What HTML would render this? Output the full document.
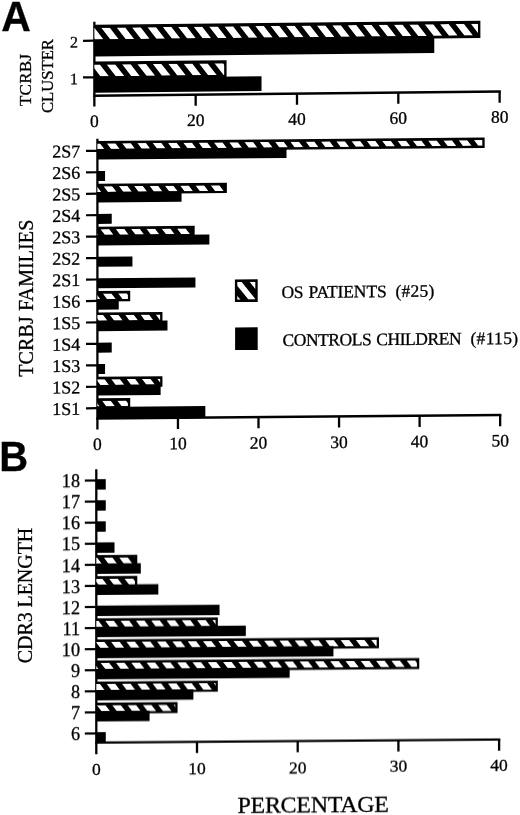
<!DOCTYPE html>
<html><head><meta charset="utf-8"><title>Figure</title>
<style>
html,body{margin:0;padding:0;background:#fff;}
body{width:520px;height:815px;overflow:hidden;font-family:"Liberation Serif",serif;}
svg{display:block;}
</style></head><body>
<svg width="520" height="815" viewBox="0 0 520 815"><defs><filter id="soft" x="-2%" y="-2%" width="104%" height="104%"><feGaussianBlur stdDeviation="0.45"/></filter><clipPath id="c1"><rect x="94.35" y="27.80" width="383.63" height="11.60"/></clipPath><clipPath id="c2"><rect x="94.35" y="64.60" width="129.82" height="11.80"/></clipPath><clipPath id="c3"><rect x="97.40" y="143.40" width="384.94" height="5.70"/></clipPath><clipPath id="c4"><rect x="97.40" y="186.30" width="127.18" height="5.70"/></clipPath><clipPath id="c5"><rect x="97.40" y="229.20" width="94.96" height="5.70"/></clipPath><clipPath id="c6"><rect x="97.40" y="293.55" width="30.52" height="5.70"/></clipPath><clipPath id="c7"><rect x="97.40" y="315.00" width="62.74" height="5.70"/></clipPath><clipPath id="c8"><rect x="97.40" y="379.35" width="62.74" height="5.70"/></clipPath><clipPath id="c9"><rect x="97.40" y="400.80" width="30.52" height="5.70"/></clipPath><clipPath id="c10"><rect x="237.30" y="283.10" width="18.00" height="17.80"/></clipPath><clipPath id="c11"><rect x="96.30" y="557.62" width="38.68" height="6.60"/></clipPath><clipPath id="c12"><rect x="96.30" y="578.70" width="38.68" height="6.60"/></clipPath><clipPath id="c13"><rect x="96.30" y="620.86" width="119.24" height="6.60"/></clipPath><clipPath id="c14"><rect x="96.30" y="641.94" width="280.36" height="6.60"/></clipPath><clipPath id="c15"><rect x="96.30" y="663.02" width="320.64" height="6.60"/></clipPath><clipPath id="c16"><rect x="96.30" y="684.10" width="119.24" height="6.60"/></clipPath><clipPath id="c17"><rect x="96.30" y="705.18" width="78.96" height="6.60"/></clipPath></defs><rect width="520" height="815" fill="#fff"/><g filter="url(#soft)"><text transform="translate(1.2 31.0) scale(0.945 1)" font-family='"Liberation Sans", sans-serif' font-size="43.3" font-weight="bold" stroke="#000" stroke-width="0.3">A</text>
<text transform="translate(-0.8 471.3) scale(0.96 1)" font-family='"Liberation Sans", sans-serif' font-size="41.6" font-weight="bold" stroke="#000" stroke-width="0.3">B</text>
<g transform="translate(94.35 0) skewY(-0.6) translate(-94.35 0)">
<line x1="94.35" y1="21.70" x2="94.35" y2="106.50" stroke="#000" stroke-width="2.3"/>
<line x1="93.25" y1="95.70" x2="500.83" y2="95.70" stroke="#000" stroke-width="2.4"/>
<line x1="195.67" y1="95.70" x2="195.67" y2="106.90" stroke="#000" stroke-width="2.3"/>
<line x1="296.99" y1="95.70" x2="296.99" y2="106.90" stroke="#000" stroke-width="2.3"/>
<line x1="398.31" y1="95.70" x2="398.31" y2="106.90" stroke="#000" stroke-width="2.3"/>
<line x1="499.63" y1="95.70" x2="499.63" y2="106.90" stroke="#000" stroke-width="2.3"/>
<text x="94.35" y="127.00" font-family='"Liberation Serif", serif' font-size="17.5" font-weight="normal" text-anchor="middle" stroke="#000" stroke-width="0.3">0</text>
<text x="195.67" y="127.00" font-family='"Liberation Serif", serif' font-size="17.5" font-weight="normal" text-anchor="middle" stroke="#000" stroke-width="0.3">20</text>
<text x="296.99" y="127.00" font-family='"Liberation Serif", serif' font-size="17.5" font-weight="normal" text-anchor="middle" stroke="#000" stroke-width="0.3">40</text>
<text x="398.31" y="127.00" font-family='"Liberation Serif", serif' font-size="17.5" font-weight="normal" text-anchor="middle" stroke="#000" stroke-width="0.3">60</text>
<text x="499.63" y="127.00" font-family='"Liberation Serif", serif' font-size="17.5" font-weight="normal" text-anchor="middle" stroke="#000" stroke-width="0.3">80</text>
<line x1="83.00" y1="40.70" x2="94.35" y2="40.70" stroke="#000" stroke-width="2.2"/>
<text x="77.90" y="47.30" font-family='"Liberation Serif", serif' font-size="16" font-weight="normal" text-anchor="end" stroke="#000" stroke-width="0.3">2</text>
<line x1="83.00" y1="77.30" x2="94.35" y2="77.30" stroke="#000" stroke-width="2.2"/>
<text x="77.90" y="83.90" font-family='"Liberation Serif", serif' font-size="16" font-weight="normal" text-anchor="end" stroke="#000" stroke-width="0.3">1</text>
<rect x="94.35" y="24.80" width="386.03" height="17.20" fill="#000"/>
<path clip-path="url(#c1)" d="M55.10 27.80L63.60 27.80L72.53 39.40L64.03 39.40ZM70.50 27.80L79.00 27.80L87.93 39.40L79.43 39.40ZM85.90 27.80L94.40 27.80L103.33 39.40L94.83 39.40ZM101.30 27.80L109.80 27.80L118.73 39.40L110.23 39.40ZM116.70 27.80L125.20 27.80L134.13 39.40L125.63 39.40ZM132.10 27.80L140.60 27.80L149.53 39.40L141.03 39.40ZM147.50 27.80L156.00 27.80L164.93 39.40L156.43 39.40ZM162.90 27.80L171.40 27.80L180.33 39.40L171.83 39.40ZM178.30 27.80L186.80 27.80L195.73 39.40L187.23 39.40ZM193.70 27.80L202.20 27.80L211.13 39.40L202.63 39.40ZM209.10 27.80L217.60 27.80L226.53 39.40L218.03 39.40ZM224.50 27.80L233.00 27.80L241.93 39.40L233.43 39.40ZM239.90 27.80L248.40 27.80L257.33 39.40L248.83 39.40ZM255.30 27.80L263.80 27.80L272.73 39.40L264.23 39.40ZM270.70 27.80L279.20 27.80L288.13 39.40L279.63 39.40ZM286.10 27.80L294.60 27.80L303.53 39.40L295.03 39.40ZM301.50 27.80L310.00 27.80L318.93 39.40L310.43 39.40ZM316.90 27.80L325.40 27.80L334.33 39.40L325.83 39.40ZM332.30 27.80L340.80 27.80L349.73 39.40L341.23 39.40ZM347.70 27.80L356.20 27.80L365.13 39.40L356.63 39.40ZM363.10 27.80L371.60 27.80L380.53 39.40L372.03 39.40ZM378.50 27.80L387.00 27.80L395.93 39.40L387.43 39.40ZM393.90 27.80L402.40 27.80L411.33 39.40L402.83 39.40ZM409.30 27.80L417.80 27.80L426.73 39.40L418.23 39.40ZM424.70 27.80L433.20 27.80L442.13 39.40L433.63 39.40ZM440.10 27.80L448.60 27.80L457.53 39.40L449.03 39.40ZM455.50 27.80L464.00 27.80L472.93 39.40L464.43 39.40ZM470.90 27.80L479.40 27.80L488.33 39.40L479.83 39.40ZM486.30 27.80L494.80 27.80L503.73 39.40L495.23 39.40ZM501.70 27.80L510.20 27.80L519.13 39.40L510.63 39.40Z" fill="#fff"/>
<rect x="94.35" y="41.00" width="339.93" height="15.50" fill="#000"/>
<rect x="94.35" y="61.60" width="132.22" height="17.40" fill="#000"/>
<path clip-path="url(#c2)" d="M60.50 64.60L69.00 64.60L78.09 76.40L69.59 76.40ZM75.90 64.60L84.40 64.60L93.49 76.40L84.99 76.40ZM91.30 64.60L99.80 64.60L108.89 76.40L100.39 76.40ZM106.70 64.60L115.20 64.60L124.29 76.40L115.79 76.40ZM122.10 64.60L130.60 64.60L139.69 76.40L131.19 76.40ZM137.50 64.60L146.00 64.60L155.09 76.40L146.59 76.40ZM152.90 64.60L161.40 64.60L170.49 76.40L161.99 76.40ZM168.30 64.60L176.80 64.60L185.89 76.40L177.39 76.40ZM183.70 64.60L192.20 64.60L201.29 76.40L192.79 76.40ZM199.10 64.60L207.60 64.60L216.69 76.40L208.19 76.40ZM214.50 64.60L223.00 64.60L232.09 76.40L223.59 76.40ZM229.90 64.60L238.40 64.60L247.49 76.40L238.99 76.40ZM245.30 64.60L253.80 64.60L262.89 76.40L254.39 76.40ZM260.70 64.60L269.20 64.60L278.29 76.40L269.79 76.40Z" fill="#fff"/>
<rect x="94.35" y="78.00" width="167.18" height="14.80" fill="#000"/>
</g>
<text x="31.00" y="80.00" font-family='"Liberation Serif", serif' font-size="17.0" font-weight="normal" text-anchor="middle" stroke="#000" stroke-width="0.3" transform="rotate(-90 31.00 80.00)" textLength="52.00" lengthAdjust="spacing">TCRBJ</text>
<text x="53.00" y="76.00" font-family='"Liberation Serif", serif' font-size="16.7" font-weight="normal" text-anchor="middle" stroke="#000" stroke-width="0.3" transform="rotate(-90 53.00 76.00)" textLength="74.00" lengthAdjust="spacing">CLUSTER</text>
<g transform="translate(97.4 0) skewY(-0.5) translate(-97.4 0)">
<line x1="97.40" y1="138.80" x2="97.40" y2="429.60" stroke="#000" stroke-width="2.3"/>
<line x1="96.30" y1="418.50" x2="501.35" y2="418.50" stroke="#000" stroke-width="2.4"/>
<line x1="177.95" y1="418.50" x2="177.95" y2="429.70" stroke="#000" stroke-width="2.3"/>
<line x1="258.50" y1="418.50" x2="258.50" y2="429.70" stroke="#000" stroke-width="2.3"/>
<line x1="339.05" y1="418.50" x2="339.05" y2="429.70" stroke="#000" stroke-width="2.3"/>
<line x1="419.60" y1="418.50" x2="419.60" y2="429.70" stroke="#000" stroke-width="2.3"/>
<line x1="500.15" y1="418.50" x2="500.15" y2="429.70" stroke="#000" stroke-width="2.3"/>
<text x="97.40" y="450.00" font-family='"Liberation Serif", serif' font-size="17.5" font-weight="normal" text-anchor="middle" stroke="#000" stroke-width="0.3">0</text>
<text x="177.95" y="450.00" font-family='"Liberation Serif", serif' font-size="17.5" font-weight="normal" text-anchor="middle" stroke="#000" stroke-width="0.3">10</text>
<text x="258.50" y="450.00" font-family='"Liberation Serif", serif' font-size="17.5" font-weight="normal" text-anchor="middle" stroke="#000" stroke-width="0.3">20</text>
<text x="339.05" y="450.00" font-family='"Liberation Serif", serif' font-size="17.5" font-weight="normal" text-anchor="middle" stroke="#000" stroke-width="0.3">30</text>
<text x="419.60" y="450.00" font-family='"Liberation Serif", serif' font-size="17.5" font-weight="normal" text-anchor="middle" stroke="#000" stroke-width="0.3">40</text>
<text x="500.15" y="450.00" font-family='"Liberation Serif", serif' font-size="17.5" font-weight="normal" text-anchor="middle" stroke="#000" stroke-width="0.3">50</text>
<line x1="86.00" y1="150.80" x2="97.40" y2="150.80" stroke="#000" stroke-width="2.2"/>
<text x="80.30" y="157.20" font-family='"Liberation Serif", serif' font-size="18" font-weight="normal" text-anchor="end" stroke="#000" stroke-width="0.3">2S7</text>
<rect x="97.40" y="140.90" width="387.24" height="10.40" fill="#000"/>
<path clip-path="url(#c3)" d="M60.90 143.40L69.40 143.40L73.71 149.10L65.21 149.10ZM76.20 143.40L84.70 143.40L89.01 149.10L80.51 149.10ZM91.50 143.40L100.00 143.40L104.31 149.10L95.81 149.10ZM106.80 143.40L115.30 143.40L119.61 149.10L111.11 149.10ZM122.10 143.40L130.60 143.40L134.91 149.10L126.41 149.10ZM137.40 143.40L145.90 143.40L150.21 149.10L141.71 149.10ZM152.70 143.40L161.20 143.40L165.51 149.10L157.01 149.10ZM168.00 143.40L176.50 143.40L180.81 149.10L172.31 149.10ZM183.30 143.40L191.80 143.40L196.11 149.10L187.61 149.10ZM198.60 143.40L207.10 143.40L211.41 149.10L202.91 149.10ZM213.90 143.40L222.40 143.40L226.71 149.10L218.21 149.10ZM229.20 143.40L237.70 143.40L242.01 149.10L233.51 149.10ZM244.50 143.40L253.00 143.40L257.31 149.10L248.81 149.10ZM259.80 143.40L268.30 143.40L272.61 149.10L264.11 149.10ZM275.10 143.40L283.60 143.40L287.91 149.10L279.41 149.10ZM290.40 143.40L298.90 143.40L303.21 149.10L294.71 149.10ZM305.70 143.40L314.20 143.40L318.51 149.10L310.01 149.10ZM321.00 143.40L329.50 143.40L333.81 149.10L325.31 149.10ZM336.30 143.40L344.80 143.40L349.11 149.10L340.61 149.10ZM351.60 143.40L360.10 143.40L364.41 149.10L355.91 149.10ZM366.90 143.40L375.40 143.40L379.71 149.10L371.21 149.10ZM382.20 143.40L390.70 143.40L395.01 149.10L386.51 149.10ZM397.50 143.40L406.00 143.40L410.31 149.10L401.81 149.10ZM412.80 143.40L421.30 143.40L425.61 149.10L417.11 149.10ZM428.10 143.40L436.60 143.40L440.91 149.10L432.41 149.10ZM443.40 143.40L451.90 143.40L456.21 149.10L447.71 149.10ZM458.70 143.40L467.20 143.40L471.51 149.10L463.01 149.10ZM474.00 143.40L482.50 143.40L486.81 149.10L478.31 149.10ZM489.30 143.40L497.80 143.40L502.11 149.10L493.61 149.10ZM504.60 143.40L513.10 143.40L517.41 149.10L508.91 149.10Z" fill="#fff"/>
<rect x="97.40" y="149.60" width="189.13" height="10.00" fill="#000"/>
<line x1="86.00" y1="172.25" x2="97.40" y2="172.25" stroke="#000" stroke-width="2.2"/>
<text x="80.30" y="178.65" font-family='"Liberation Serif", serif' font-size="18" font-weight="normal" text-anchor="end" stroke="#000" stroke-width="0.3">2S6</text>
<rect x="97.40" y="171.05" width="7.65" height="10.00" fill="#000"/>
<line x1="86.00" y1="193.70" x2="97.40" y2="193.70" stroke="#000" stroke-width="2.2"/>
<text x="80.30" y="200.10" font-family='"Liberation Serif", serif' font-size="18" font-weight="normal" text-anchor="end" stroke="#000" stroke-width="0.3">2S5</text>
<rect x="97.40" y="183.80" width="129.48" height="10.40" fill="#000"/>
<path clip-path="url(#c4)" d="M57.75 186.30L66.25 186.30L70.56 192.00L62.06 192.00ZM73.05 186.30L81.55 186.30L85.86 192.00L77.36 192.00ZM88.35 186.30L96.85 186.30L101.16 192.00L92.66 192.00ZM103.65 186.30L112.15 186.30L116.46 192.00L107.96 192.00ZM118.95 186.30L127.45 186.30L131.76 192.00L123.26 192.00ZM134.25 186.30L142.75 186.30L147.06 192.00L138.56 192.00ZM149.55 186.30L158.05 186.30L162.36 192.00L153.86 192.00ZM164.85 186.30L173.35 186.30L177.66 192.00L169.16 192.00ZM180.15 186.30L188.65 186.30L192.96 192.00L184.46 192.00ZM195.45 186.30L203.95 186.30L208.26 192.00L199.76 192.00ZM210.75 186.30L219.25 186.30L223.56 192.00L215.06 192.00ZM226.05 186.30L234.55 186.30L238.86 192.00L230.36 192.00ZM241.35 186.30L249.85 186.30L254.16 192.00L245.66 192.00ZM256.65 186.30L265.15 186.30L269.46 192.00L260.96 192.00Z" fill="#fff"/>
<rect x="97.40" y="192.50" width="84.17" height="10.00" fill="#000"/>
<line x1="86.00" y1="215.15" x2="97.40" y2="215.15" stroke="#000" stroke-width="2.2"/>
<text x="80.30" y="221.55" font-family='"Liberation Serif", serif' font-size="18" font-weight="normal" text-anchor="end" stroke="#000" stroke-width="0.3">2S4</text>
<rect x="97.40" y="213.95" width="14.34" height="10.00" fill="#000"/>
<line x1="86.00" y1="236.60" x2="97.40" y2="236.60" stroke="#000" stroke-width="2.2"/>
<text x="80.30" y="243.00" font-family='"Liberation Serif", serif' font-size="18" font-weight="normal" text-anchor="end" stroke="#000" stroke-width="0.3">2S3</text>
<rect x="97.40" y="226.70" width="97.26" height="10.40" fill="#000"/>
<path clip-path="url(#c5)" d="M54.65 229.20L63.15 229.20L67.46 234.90L58.96 234.90ZM69.95 229.20L78.45 229.20L82.76 234.90L74.26 234.90ZM85.25 229.20L93.75 229.20L98.06 234.90L89.56 234.90ZM100.55 229.20L109.05 229.20L113.36 234.90L104.86 234.90ZM115.85 229.20L124.35 229.20L128.66 234.90L120.16 234.90ZM131.15 229.20L139.65 229.20L143.96 234.90L135.46 234.90ZM146.45 229.20L154.95 229.20L159.26 234.90L150.76 234.90ZM161.75 229.20L170.25 229.20L174.56 234.90L166.06 234.90ZM177.05 229.20L185.55 229.20L189.86 234.90L181.36 234.90ZM192.35 229.20L200.85 229.20L205.16 234.90L196.66 234.90ZM207.65 229.20L216.15 229.20L220.46 234.90L211.96 234.90ZM222.95 229.20L231.45 229.20L235.76 234.90L227.26 234.90Z" fill="#fff"/>
<rect x="97.40" y="235.40" width="111.96" height="10.00" fill="#000"/>
<line x1="86.00" y1="258.05" x2="97.40" y2="258.05" stroke="#000" stroke-width="2.2"/>
<text x="80.30" y="264.45" font-family='"Liberation Serif", serif' font-size="18" font-weight="normal" text-anchor="end" stroke="#000" stroke-width="0.3">2S2</text>
<rect x="97.40" y="256.85" width="35.04" height="10.00" fill="#000"/>
<line x1="86.00" y1="279.50" x2="97.40" y2="279.50" stroke="#000" stroke-width="2.2"/>
<text x="80.30" y="285.90" font-family='"Liberation Serif", serif' font-size="18" font-weight="normal" text-anchor="end" stroke="#000" stroke-width="0.3">2S1</text>
<rect x="97.40" y="278.30" width="98.03" height="10.00" fill="#000"/>
<line x1="86.00" y1="300.95" x2="97.40" y2="300.95" stroke="#000" stroke-width="2.2"/>
<text x="80.30" y="307.35" font-family='"Liberation Serif", serif' font-size="18" font-weight="normal" text-anchor="end" stroke="#000" stroke-width="0.3">1S6</text>
<rect x="97.40" y="291.05" width="32.82" height="10.40" fill="#000"/>
<path clip-path="url(#c6)" d="M56.95 293.55L65.45 293.55L69.76 299.25L61.26 299.25ZM72.25 293.55L80.75 293.55L85.06 299.25L76.56 299.25ZM87.55 293.55L96.05 293.55L100.36 299.25L91.86 299.25ZM102.85 293.55L111.35 293.55L115.66 299.25L107.16 299.25ZM118.15 293.55L126.65 293.55L130.96 299.25L122.46 299.25ZM133.45 293.55L141.95 293.55L146.26 299.25L137.76 299.25ZM148.75 293.55L157.25 293.55L161.56 299.25L153.06 299.25ZM164.05 293.55L172.55 293.55L176.86 299.25L168.36 299.25Z" fill="#fff"/>
<rect x="97.40" y="299.75" width="21.35" height="10.00" fill="#000"/>
<line x1="86.00" y1="322.40" x2="97.40" y2="322.40" stroke="#000" stroke-width="2.2"/>
<text x="80.30" y="328.80" font-family='"Liberation Serif", serif' font-size="18" font-weight="normal" text-anchor="end" stroke="#000" stroke-width="0.3">1S5</text>
<rect x="97.40" y="312.50" width="65.04" height="10.40" fill="#000"/>
<path clip-path="url(#c7)" d="M63.95 315.00L72.45 315.00L76.76 320.70L68.26 320.70ZM79.25 315.00L87.75 315.00L92.06 320.70L83.56 320.70ZM94.55 315.00L103.05 315.00L107.36 320.70L98.86 320.70ZM109.85 315.00L118.35 315.00L122.66 320.70L114.16 320.70ZM125.15 315.00L133.65 315.00L137.96 320.70L129.46 320.70ZM140.45 315.00L148.95 315.00L153.26 320.70L144.76 320.70ZM155.75 315.00L164.25 315.00L168.56 320.70L160.06 320.70ZM171.05 315.00L179.55 315.00L183.86 320.70L175.36 320.70ZM186.35 315.00L194.85 315.00L199.16 320.70L190.66 320.70Z" fill="#fff"/>
<rect x="97.40" y="321.20" width="70.08" height="10.00" fill="#000"/>
<line x1="86.00" y1="343.85" x2="97.40" y2="343.85" stroke="#000" stroke-width="2.2"/>
<text x="80.30" y="350.25" font-family='"Liberation Serif", serif' font-size="18" font-weight="normal" text-anchor="end" stroke="#000" stroke-width="0.3">1S4</text>
<rect x="97.40" y="342.65" width="14.34" height="10.00" fill="#000"/>
<line x1="86.00" y1="365.30" x2="97.40" y2="365.30" stroke="#000" stroke-width="2.2"/>
<text x="80.30" y="371.70" font-family='"Liberation Serif", serif' font-size="18" font-weight="normal" text-anchor="end" stroke="#000" stroke-width="0.3">1S3</text>
<rect x="97.40" y="364.10" width="7.65" height="10.00" fill="#000"/>
<line x1="86.00" y1="386.75" x2="97.40" y2="386.75" stroke="#000" stroke-width="2.2"/>
<text x="80.30" y="393.15" font-family='"Liberation Serif", serif' font-size="18" font-weight="normal" text-anchor="end" stroke="#000" stroke-width="0.3">1S2</text>
<rect x="97.40" y="376.85" width="65.04" height="10.40" fill="#000"/>
<path clip-path="url(#c8)" d="M65.50 379.35L74.00 379.35L78.31 385.05L69.81 385.05ZM80.80 379.35L89.30 379.35L93.61 385.05L85.11 385.05ZM96.10 379.35L104.60 379.35L108.91 385.05L100.41 385.05ZM111.40 379.35L119.90 379.35L124.21 385.05L115.71 385.05ZM126.70 379.35L135.20 379.35L139.51 385.05L131.01 385.05ZM142.00 379.35L150.50 379.35L154.81 385.05L146.31 385.05ZM157.30 379.35L165.80 379.35L170.11 385.05L161.61 385.05ZM172.60 379.35L181.10 379.35L185.41 385.05L176.91 385.05ZM187.90 379.35L196.40 379.35L200.71 385.05L192.21 385.05Z" fill="#fff"/>
<rect x="97.40" y="385.55" width="63.23" height="10.00" fill="#000"/>
<line x1="86.00" y1="408.20" x2="97.40" y2="408.20" stroke="#000" stroke-width="2.2"/>
<text x="80.30" y="414.60" font-family='"Liberation Serif", serif' font-size="18" font-weight="normal" text-anchor="end" stroke="#000" stroke-width="0.3">1S1</text>
<rect x="97.40" y="398.30" width="32.82" height="10.40" fill="#000"/>
<path clip-path="url(#c9)" d="M56.20 400.80L64.70 400.80L69.01 406.50L60.51 406.50ZM71.50 400.80L80.00 400.80L84.31 406.50L75.81 406.50ZM86.80 400.80L95.30 400.80L99.61 406.50L91.11 406.50ZM102.10 400.80L110.60 400.80L114.91 406.50L106.41 406.50ZM117.40 400.80L125.90 400.80L130.21 406.50L121.71 406.50ZM132.70 400.80L141.20 400.80L145.51 406.50L137.01 406.50ZM148.00 400.80L156.50 400.80L160.81 406.50L152.31 406.50ZM163.30 400.80L171.80 400.80L176.11 406.50L167.61 406.50Z" fill="#fff"/>
<rect x="97.40" y="407.00" width="107.94" height="11.50" fill="#000"/>
</g>
<text x="33.00" y="298.20" font-family='"Liberation Serif", serif' font-size="20" font-weight="normal" text-anchor="middle" stroke="#000" stroke-width="0.3" transform="rotate(-90 33.00 298.20)" textLength="157.00" lengthAdjust="spacing">TCRBJ FAMILIES</text>
<g transform="translate(97.4 0) skewY(-0.5) translate(-97.4 0)">
<rect x="234.90" y="280.70" width="22.80" height="22.60" fill="#000"/>
<path clip-path="url(#c10)" d="M188.30 283.10L195.60 283.10L209.84 300.90L202.54 300.90ZM203.60 283.10L210.90 283.10L225.14 300.90L217.84 300.90ZM218.90 283.10L226.20 283.10L240.44 300.90L233.14 300.90ZM234.20 283.10L241.50 283.10L255.74 300.90L248.44 300.90ZM249.50 283.10L256.80 283.10L271.04 300.90L263.74 300.90ZM264.80 283.10L272.10 283.10L286.34 300.90L279.04 300.90ZM280.10 283.10L287.40 283.10L301.64 300.90L294.34 300.90Z" fill="#fff"/>
<rect x="235.10" y="328.70" width="22.60" height="22.60" fill="#000"/>
<text x="281.40" y="299.60" font-family='"Liberation Serif", serif' font-size="17.5" font-weight="normal" text-anchor="start" stroke="#000" stroke-width="0.3" textLength="22.00" lengthAdjust="spacing">OS</text>
<text x="308.40" y="299.60" font-family='"Liberation Serif", serif' font-size="17.5" font-weight="normal" text-anchor="start" stroke="#000" stroke-width="0.3" textLength="78.30" lengthAdjust="spacing">PATIENTS</text>
<text x="395.40" y="299.60" font-family='"Liberation Serif", serif' font-size="17.5" font-weight="normal" text-anchor="start" stroke="#000" stroke-width="0.3" textLength="38.90" lengthAdjust="spacing">(#25)</text>
<text x="282.50" y="347.60" font-family='"Liberation Serif", serif' font-size="17.5" font-weight="normal" text-anchor="start" stroke="#000" stroke-width="0.3" textLength="89.20" lengthAdjust="spacing">CONTROLS</text>
<text x="376.20" y="347.60" font-family='"Liberation Serif", serif' font-size="17.5" font-weight="normal" text-anchor="start" stroke="#000" stroke-width="0.3" textLength="85.40" lengthAdjust="spacing">CHILDREN</text>
<text x="470.40" y="347.60" font-family='"Liberation Serif", serif' font-size="17.5" font-weight="normal" text-anchor="start" stroke="#000" stroke-width="0.3" textLength="47.70" lengthAdjust="spacing">(#115)</text>
</g>
<g transform="translate(96.3 0) skewY(-0.44) translate(-96.3 0)">
<line x1="96.30" y1="469.20" x2="96.30" y2="754.20" stroke="#000" stroke-width="2.3"/>
<line x1="95.20" y1="742.60" x2="500.30" y2="742.60" stroke="#000" stroke-width="2.4"/>
<line x1="197.00" y1="742.60" x2="197.00" y2="753.80" stroke="#000" stroke-width="2.3"/>
<line x1="297.70" y1="742.60" x2="297.70" y2="753.80" stroke="#000" stroke-width="2.3"/>
<line x1="398.40" y1="742.60" x2="398.40" y2="753.80" stroke="#000" stroke-width="2.3"/>
<line x1="499.10" y1="742.60" x2="499.10" y2="753.80" stroke="#000" stroke-width="2.3"/>
<text x="96.30" y="774.80" font-family='"Liberation Serif", serif' font-size="17.5" font-weight="normal" text-anchor="middle" stroke="#000" stroke-width="0.3">0</text>
<text x="197.00" y="774.67" font-family='"Liberation Serif", serif' font-size="17.5" font-weight="normal" text-anchor="middle" stroke="#000" stroke-width="0.3">10</text>
<text x="297.70" y="774.55" font-family='"Liberation Serif", serif' font-size="17.5" font-weight="normal" text-anchor="middle" stroke="#000" stroke-width="0.3">20</text>
<text x="398.40" y="774.42" font-family='"Liberation Serif", serif' font-size="17.5" font-weight="normal" text-anchor="middle" stroke="#000" stroke-width="0.3">30</text>
<text x="499.10" y="774.30" font-family='"Liberation Serif", serif' font-size="17.5" font-weight="normal" text-anchor="middle" stroke="#000" stroke-width="0.3">40</text>
<line x1="84.80" y1="480.50" x2="96.30" y2="480.50" stroke="#000" stroke-width="2.2"/>
<text x="80.00" y="487.20" font-family='"Liberation Serif", serif' font-size="18.2" font-weight="normal" text-anchor="end" stroke="#000" stroke-width="0.3">18</text>
<rect x="96.30" y="479.20" width="9.46" height="10.40" fill="#000"/>
<line x1="84.80" y1="501.58" x2="96.30" y2="501.58" stroke="#000" stroke-width="2.2"/>
<text x="80.00" y="508.28" font-family='"Liberation Serif", serif' font-size="18.2" font-weight="normal" text-anchor="end" stroke="#000" stroke-width="0.3">17</text>
<rect x="96.30" y="500.28" width="9.46" height="10.40" fill="#000"/>
<line x1="84.80" y1="522.66" x2="96.30" y2="522.66" stroke="#000" stroke-width="2.2"/>
<text x="80.00" y="529.36" font-family='"Liberation Serif", serif' font-size="18.2" font-weight="normal" text-anchor="end" stroke="#000" stroke-width="0.3">16</text>
<rect x="96.30" y="521.36" width="9.46" height="10.40" fill="#000"/>
<line x1="84.80" y1="543.74" x2="96.30" y2="543.74" stroke="#000" stroke-width="2.2"/>
<text x="80.00" y="550.44" font-family='"Liberation Serif", serif' font-size="18.2" font-weight="normal" text-anchor="end" stroke="#000" stroke-width="0.3">15</text>
<rect x="96.30" y="542.44" width="18.22" height="10.40" fill="#000"/>
<line x1="84.80" y1="564.82" x2="96.30" y2="564.82" stroke="#000" stroke-width="2.2"/>
<text x="80.00" y="571.52" font-family='"Liberation Serif", serif' font-size="18.2" font-weight="normal" text-anchor="end" stroke="#000" stroke-width="0.3">14</text>
<rect x="96.30" y="555.12" width="40.98" height="11.00" fill="#000"/>
<path clip-path="url(#c11)" d="M57.90 557.62L66.40 557.62L71.39 564.22L62.89 564.22ZM73.20 557.62L81.70 557.62L86.69 564.22L78.19 564.22ZM88.50 557.62L97.00 557.62L101.99 564.22L93.49 564.22ZM103.80 557.62L112.30 557.62L117.29 564.22L108.79 564.22ZM119.10 557.62L127.60 557.62L132.59 564.22L124.09 564.22ZM134.40 557.62L142.90 557.62L147.89 564.22L139.39 564.22ZM149.70 557.62L158.20 557.62L163.19 564.22L154.69 564.22ZM165.00 557.62L173.50 557.62L178.49 564.22L169.99 564.22Z" fill="#fff"/>
<rect x="96.30" y="563.52" width="44.50" height="10.40" fill="#000"/>
<line x1="84.80" y1="585.90" x2="96.30" y2="585.90" stroke="#000" stroke-width="2.2"/>
<text x="80.00" y="592.60" font-family='"Liberation Serif", serif' font-size="18.2" font-weight="normal" text-anchor="end" stroke="#000" stroke-width="0.3">13</text>
<rect x="96.30" y="576.20" width="40.98" height="11.00" fill="#000"/>
<path clip-path="url(#c12)" d="M63.20 578.70L71.70 578.70L76.69 585.30L68.19 585.30ZM78.50 578.70L87.00 578.70L91.99 585.30L83.49 585.30ZM93.80 578.70L102.30 578.70L107.29 585.30L98.79 585.30ZM109.10 578.70L117.60 578.70L122.59 585.30L114.09 585.30ZM124.40 578.70L132.90 578.70L137.89 585.30L129.39 585.30ZM139.70 578.70L148.20 578.70L153.19 585.30L144.69 585.30ZM155.00 578.70L163.50 578.70L168.49 585.30L159.99 585.30ZM170.30 578.70L178.80 578.70L183.79 585.30L175.29 585.30Z" fill="#fff"/>
<rect x="96.30" y="584.60" width="62.03" height="10.40" fill="#000"/>
<line x1="84.80" y1="606.98" x2="96.30" y2="606.98" stroke="#000" stroke-width="2.2"/>
<text x="80.00" y="613.68" font-family='"Liberation Serif", serif' font-size="18.2" font-weight="normal" text-anchor="end" stroke="#000" stroke-width="0.3">12</text>
<rect x="96.30" y="605.68" width="123.25" height="10.40" fill="#000"/>
<line x1="84.80" y1="628.06" x2="96.30" y2="628.06" stroke="#000" stroke-width="2.2"/>
<text x="80.00" y="634.76" font-family='"Liberation Serif", serif' font-size="18.2" font-weight="normal" text-anchor="end" stroke="#000" stroke-width="0.3">11</text>
<rect x="96.30" y="618.36" width="121.54" height="11.00" fill="#000"/>
<path clip-path="url(#c13)" d="M59.30 620.86L67.80 620.86L72.79 627.46L64.29 627.46ZM74.60 620.86L83.10 620.86L88.09 627.46L79.59 627.46ZM89.90 620.86L98.40 620.86L103.39 627.46L94.89 627.46ZM105.20 620.86L113.70 620.86L118.69 627.46L110.19 627.46ZM120.50 620.86L129.00 620.86L133.99 627.46L125.49 627.46ZM135.80 620.86L144.30 620.86L149.29 627.46L140.79 627.46ZM151.10 620.86L159.60 620.86L164.59 627.46L156.09 627.46ZM166.40 620.86L174.90 620.86L179.89 627.46L171.39 627.46ZM181.70 620.86L190.20 620.86L195.19 627.46L186.69 627.46ZM197.00 620.86L205.50 620.86L210.49 627.46L201.99 627.46ZM212.30 620.86L220.80 620.86L225.79 627.46L217.29 627.46ZM227.60 620.86L236.10 620.86L241.09 627.46L232.59 627.46ZM242.90 620.86L251.40 620.86L256.39 627.46L247.89 627.46Z" fill="#fff"/>
<rect x="96.30" y="626.76" width="149.53" height="10.40" fill="#000"/>
<line x1="84.80" y1="649.14" x2="96.30" y2="649.14" stroke="#000" stroke-width="2.2"/>
<text x="80.00" y="655.84" font-family='"Liberation Serif", serif' font-size="18.2" font-weight="normal" text-anchor="end" stroke="#000" stroke-width="0.3">10</text>
<rect x="96.30" y="639.44" width="282.66" height="11.00" fill="#000"/>
<path clip-path="url(#c14)" d="M65.20 641.94L73.70 641.94L78.69 648.54L70.19 648.54ZM80.50 641.94L89.00 641.94L93.99 648.54L85.49 648.54ZM95.80 641.94L104.30 641.94L109.29 648.54L100.79 648.54ZM111.10 641.94L119.60 641.94L124.59 648.54L116.09 648.54ZM126.40 641.94L134.90 641.94L139.89 648.54L131.39 648.54ZM141.70 641.94L150.20 641.94L155.19 648.54L146.69 648.54ZM157.00 641.94L165.50 641.94L170.49 648.54L161.99 648.54ZM172.30 641.94L180.80 641.94L185.79 648.54L177.29 648.54ZM187.60 641.94L196.10 641.94L201.09 648.54L192.59 648.54ZM202.90 641.94L211.40 641.94L216.39 648.54L207.89 648.54ZM218.20 641.94L226.70 641.94L231.69 648.54L223.19 648.54ZM233.50 641.94L242.00 641.94L246.99 648.54L238.49 648.54ZM248.80 641.94L257.30 641.94L262.29 648.54L253.79 648.54ZM264.10 641.94L272.60 641.94L277.59 648.54L269.09 648.54ZM279.40 641.94L287.90 641.94L292.89 648.54L284.39 648.54ZM294.70 641.94L303.20 641.94L308.19 648.54L299.69 648.54ZM310.00 641.94L318.50 641.94L323.49 648.54L314.99 648.54ZM325.30 641.94L333.80 641.94L338.79 648.54L330.29 648.54ZM340.60 641.94L349.10 641.94L354.09 648.54L345.59 648.54ZM355.90 641.94L364.40 641.94L369.39 648.54L360.89 648.54ZM371.20 641.94L379.70 641.94L384.69 648.54L376.19 648.54ZM386.50 641.94L395.00 641.94L399.99 648.54L391.49 648.54ZM401.80 641.94L410.30 641.94L415.29 648.54L406.79 648.54Z" fill="#fff"/>
<rect x="96.30" y="647.84" width="237.14" height="10.40" fill="#000"/>
<line x1="84.80" y1="670.22" x2="96.30" y2="670.22" stroke="#000" stroke-width="2.2"/>
<text x="80.00" y="676.92" font-family='"Liberation Serif", serif' font-size="18.2" font-weight="normal" text-anchor="end" stroke="#000" stroke-width="0.3">9</text>
<rect x="96.30" y="660.52" width="322.94" height="11.00" fill="#000"/>
<path clip-path="url(#c15)" d="M54.80 663.02L63.30 663.02L68.29 669.62L59.79 669.62ZM70.10 663.02L78.60 663.02L83.59 669.62L75.09 669.62ZM85.40 663.02L93.90 663.02L98.89 669.62L90.39 669.62ZM100.70 663.02L109.20 663.02L114.19 669.62L105.69 669.62ZM116.00 663.02L124.50 663.02L129.49 669.62L120.99 669.62ZM131.30 663.02L139.80 663.02L144.79 669.62L136.29 669.62ZM146.60 663.02L155.10 663.02L160.09 669.62L151.59 669.62ZM161.90 663.02L170.40 663.02L175.39 669.62L166.89 669.62ZM177.20 663.02L185.70 663.02L190.69 669.62L182.19 669.62ZM192.50 663.02L201.00 663.02L205.99 669.62L197.49 669.62ZM207.80 663.02L216.30 663.02L221.29 669.62L212.79 669.62ZM223.10 663.02L231.60 663.02L236.59 669.62L228.09 669.62ZM238.40 663.02L246.90 663.02L251.89 669.62L243.39 669.62ZM253.70 663.02L262.20 663.02L267.19 669.62L258.69 669.62ZM269.00 663.02L277.50 663.02L282.49 669.62L273.99 669.62ZM284.30 663.02L292.80 663.02L297.79 669.62L289.29 669.62ZM299.60 663.02L308.10 663.02L313.09 669.62L304.59 669.62ZM314.90 663.02L323.40 663.02L328.39 669.62L319.89 669.62ZM330.20 663.02L338.70 663.02L343.69 669.62L335.19 669.62ZM345.50 663.02L354.00 663.02L358.99 669.62L350.49 669.62ZM360.80 663.02L369.30 663.02L374.29 669.62L365.79 669.62ZM376.10 663.02L384.60 663.02L389.59 669.62L381.09 669.62ZM391.40 663.02L399.90 663.02L404.89 669.62L396.39 669.62ZM406.70 663.02L415.20 663.02L420.19 669.62L411.69 669.62ZM422.00 663.02L430.50 663.02L435.49 669.62L426.99 669.62ZM437.30 663.02L445.80 663.02L450.79 669.62L442.29 669.62ZM452.60 663.02L461.10 663.02L466.09 669.62L457.59 669.62Z" fill="#fff"/>
<rect x="96.30" y="668.92" width="193.34" height="10.40" fill="#000"/>
<line x1="84.80" y1="691.30" x2="96.30" y2="691.30" stroke="#000" stroke-width="2.2"/>
<text x="80.00" y="698.00" font-family='"Liberation Serif", serif' font-size="18.2" font-weight="normal" text-anchor="end" stroke="#000" stroke-width="0.3">8</text>
<rect x="96.30" y="681.60" width="121.54" height="11.00" fill="#000"/>
<path clip-path="url(#c16)" d="M60.85 684.10L69.35 684.10L74.34 690.70L65.84 690.70ZM76.15 684.10L84.65 684.10L89.64 690.70L81.14 690.70ZM91.45 684.10L99.95 684.10L104.94 690.70L96.44 690.70ZM106.75 684.10L115.25 684.10L120.24 690.70L111.74 690.70ZM122.05 684.10L130.55 684.10L135.54 690.70L127.04 690.70ZM137.35 684.10L145.85 684.10L150.84 690.70L142.34 690.70ZM152.65 684.10L161.15 684.10L166.14 690.70L157.64 690.70ZM167.95 684.10L176.45 684.10L181.44 690.70L172.94 690.70ZM183.25 684.10L191.75 684.10L196.74 690.70L188.24 690.70ZM198.55 684.10L207.05 684.10L212.04 690.70L203.54 690.70ZM213.85 684.10L222.35 684.10L227.34 690.70L218.84 690.70ZM229.15 684.10L237.65 684.10L242.64 690.70L234.14 690.70ZM244.45 684.10L252.95 684.10L257.94 690.70L249.44 690.70Z" fill="#fff"/>
<rect x="96.30" y="690.00" width="97.07" height="10.40" fill="#000"/>
<line x1="84.80" y1="712.38" x2="96.30" y2="712.38" stroke="#000" stroke-width="2.2"/>
<text x="80.00" y="719.08" font-family='"Liberation Serif", serif' font-size="18.2" font-weight="normal" text-anchor="end" stroke="#000" stroke-width="0.3">7</text>
<rect x="96.30" y="702.68" width="81.26" height="11.00" fill="#000"/>
<path clip-path="url(#c17)" d="M66.30 705.18L74.80 705.18L79.79 711.78L71.29 711.78ZM81.60 705.18L90.10 705.18L95.09 711.78L86.59 711.78ZM96.90 705.18L105.40 705.18L110.39 711.78L101.89 711.78ZM112.20 705.18L120.70 705.18L125.69 711.78L117.19 711.78ZM127.50 705.18L136.00 705.18L140.99 711.78L132.49 711.78ZM142.80 705.18L151.30 705.18L156.29 711.78L147.79 711.78ZM158.10 705.18L166.60 705.18L171.59 711.78L163.09 711.78ZM173.40 705.18L181.90 705.18L186.89 711.78L178.39 711.78ZM188.70 705.18L197.20 705.18L202.19 711.78L193.69 711.78ZM204.00 705.18L212.50 705.18L217.49 711.78L208.99 711.78Z" fill="#fff"/>
<rect x="96.30" y="711.08" width="53.27" height="10.40" fill="#000"/>
<line x1="84.80" y1="733.46" x2="96.30" y2="733.46" stroke="#000" stroke-width="2.2"/>
<text x="80.00" y="740.16" font-family='"Liberation Serif", serif' font-size="18.2" font-weight="normal" text-anchor="end" stroke="#000" stroke-width="0.3">6</text>
<rect x="96.30" y="732.16" width="9.46" height="10.44" fill="#000"/>
<text x="313.20" y="813.60" font-family='"Liberation Serif", serif' font-size="24" font-weight="normal" text-anchor="middle" stroke="#000" stroke-width="0.3" textLength="151.50" lengthAdjust="spacing">PERCENTAGE</text>
</g>
<text x="32.00" y="595.50" font-family='"Liberation Serif", serif' font-size="20" font-weight="normal" text-anchor="middle" stroke="#000" stroke-width="0.3" transform="rotate(-90 32.00 595.50)" textLength="135.50" lengthAdjust="spacing">CDR3 LENGTH</text></g></svg>
</body></html>
